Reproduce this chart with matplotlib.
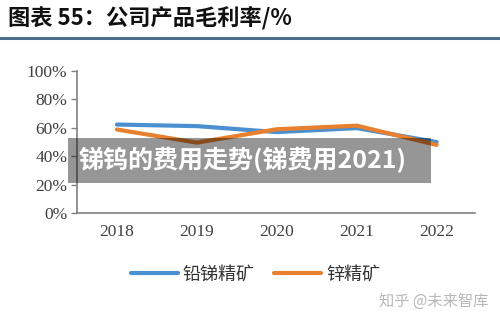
import matplotlib
matplotlib.use("Agg")
import matplotlib.pyplot as plt
from matplotlib.patches import Rectangle
from matplotlib.lines import Line2D

plt.rcParams['font.family'] = ['Noto Sans CJK SC', 'DejaVu Sans']

years = ["2018", "2019", "2020", "2021", "2022"]
lead_antimony = [62.3, 61.2, 57.0, 59.8, 50.0]   # 铅锑精矿
zinc = [58.8, 49.6, 59.0, 61.5, 48.0]            # 锌精矿
yticks = [0, 20, 40, 60, 80, 100]

blue = "#4a90d0"
orange = "#e8812f"

fig = plt.figure(figsize=(5.0, 3.21), dpi=100)
ax = fig.add_axes([0.154, 0.336, 0.796, 0.443])

x = range(len(years))
ax.plot(x, lead_antimony, color=blue, lw=3.0, solid_capstyle="round", label="铅锑精矿")
ax.plot(x, zinc, color=orange, lw=3.0, solid_capstyle="round", label="锌精矿")

ax.set_xlim(-0.5, 4.48)
ax.set_ylim(0, 100)
ax.set_yticks(yticks)
ax.set_yticklabels([f"{v}%" for v in yticks], family="Liberation Serif", fontsize=12.5, color="#404040")
ax.set_xticks(list(x))
ax.set_xticklabels(years, family="Liberation Serif", fontsize=12.5, color="#404040")
ax.tick_params(axis="x", length=0, pad=8)
ax.tick_params(axis="y", length=4, color="#808080", width=1, pad=3)
for s in ("top", "right"):
    ax.spines[s].set_visible(False)
for s in ("left", "bottom"):
    ax.spines[s].set_color("#808080")
    ax.spines[s].set_linewidth(1.2)

# title and separator
fig.text(0.016, 0.944, "图表 55：公司产品毛利率/%", fontsize=16, fontweight="bold",
         va="center", ha="left", color="#111111")
fig.add_artist(Line2D([0, 1], [0.883, 0.883], color="#4f6e8c", lw=2.2))

# legend
leg = fig.legend(loc="center", bbox_to_anchor=(0.511, 0.146), ncol=2, frameon=False,
                 handlelength=2.6, columnspacing=1.1, handletextpad=0.25, fontsize=13)
for t in leg.get_texts():
    t.set_color("#333333")

# watermark
fig.text(0.976, 0.062, "知乎 @未来智库", fontsize=11, color="#b8b8b8", ha="right", va="center")

# overlay banner
fig.add_artist(Rectangle((0.136, 0.43), 0.726, 0.14, transform=fig.transFigure,
                         facecolor="#000000", alpha=0.41, edgecolor="none"))
fig.text(0.158, 0.501, "锑钨的费用走势(锑费用2021)", fontsize=18, fontweight="bold",
         color="white", ha="left", va="center")

fig.savefig("out.png", dpi=100)
